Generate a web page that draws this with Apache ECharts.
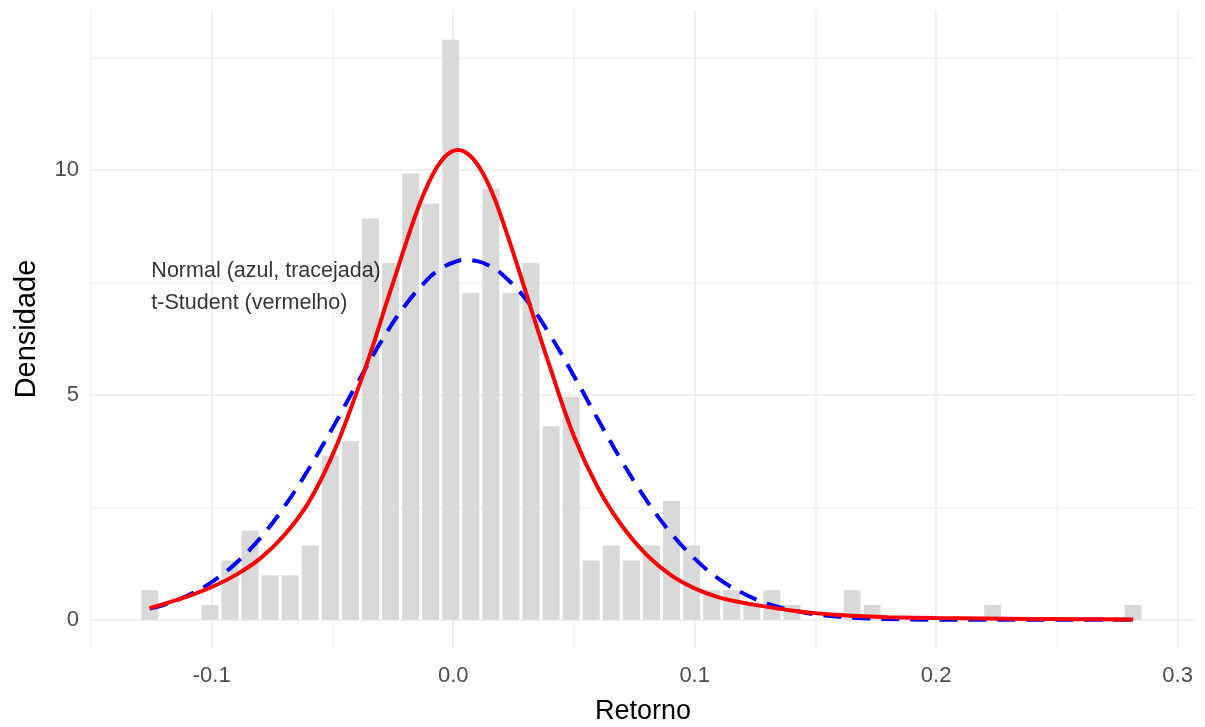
<!DOCTYPE html>
<html>
<head>
<meta charset="utf-8">
<script src="https://cdn.jsdelivr.net/npm/echarts@6/dist/echarts.min.js"></script>
<style>
  html, body { margin: 0; padding: 0; background: #ffffff; }
  #chart { width: 1205px; height: 727px; }
</style>
</head>
<body>
<div id="chart"></div>
<script>
// histogram bins (centre of each bin) and density heights
const binCenters = [
  -0.12570, -0.11739, -0.10908, -0.10076, -0.09245, -0.08414, -0.07583, -0.06752, -0.05920, -0.05089,
  -0.04258, -0.03427, -0.02596, -0.01764, -0.00933, -0.00102, 0.00729, 0.01560, 0.02392, 0.03223,
  0.04054, 0.04885, 0.05716, 0.06548, 0.07379, 0.08210, 0.09041, 0.09872, 0.10704, 0.11535,
  0.12366, 0.13197, 0.14028, 0.14860, 0.15691, 0.16522, 0.17353, 0.18184, 0.19016, 0.19847,
  0.20678, 0.21509, 0.22340, 0.23172, 0.24003, 0.24834, 0.25665, 0.26496, 0.27328, 0.28159
];
const binDensity = [
  0.66, 0, 0, 0.33, 1.32, 1.98, 0.99, 0.99, 1.65, 3.64,
  3.97, 8.92, 7.93, 9.92, 9.25, 12.89, 7.27, 9.58, 7.27, 7.93,
  4.30, 4.96, 1.32, 1.65, 1.32, 1.65, 2.64, 1.65, 0.66, 0.66,
  0.33, 0.66, 0.33, 0, 0, 0.66, 0.33, 0, 0, 0,
  0, 0, 0.33, 0, 0, 0, 0, 0, 0, 0.33
];

// fitted normal curve (blue, dashed)
const normalX = [
  -0.1257, -0.12, -0.11, -0.10, -0.09, -0.08, -0.07, -0.06, -0.05, -0.04,
  -0.03, -0.02, -0.01, -0.005, 0.0, 0.005, 0.01, 0.015, 0.02, 0.03, 0.04, 0.05,
  0.06, 0.07, 0.08, 0.09, 0.10, 0.11, 0.12, 0.13, 0.14, 0.15,
  0.16, 0.17, 0.18, 0.19, 0.20, 0.22, 0.24, 0.26, 0.2816
];
const normalY = [
  0.25, 0.33, 0.54, 0.84, 1.26, 1.81, 2.51, 3.34, 4.26, 5.23,
  6.17, 6.98, 7.60, 7.81, 7.94, 8.00, 7.97, 7.87, 7.69, 7.13, 6.34, 5.42,
  4.45, 3.51, 2.66, 1.94, 1.36, 0.91, 0.59, 0.36, 0.22, 0.12,
  0.07, 0.035, 0.017, 0.008, 0.003, 0, 0, 0, 0
];

// fitted t-Student curve (red)
const studentX = [
  -0.1257, -0.12, -0.11, -0.10, -0.09, -0.08, -0.07, -0.06, -0.05, -0.04,
  -0.033, -0.028, -0.023, -0.018, -0.013, -0.008, -0.003, 0.002, 0.007, 0.012,
  0.017, 0.022, 0.027, 0.032, 0.04, 0.05, 0.06, 0.07, 0.08, 0.09,
  0.10, 0.11, 0.12, 0.13, 0.14, 0.15, 0.16, 0.17, 0.18, 0.20,
  0.22, 0.24, 0.26, 0.2816
];
const studentY = [
  0.26, 0.35, 0.52, 0.73, 1.00, 1.36, 1.88, 2.60, 3.66, 5.05,
  6.13, 6.98, 7.80, 8.62, 9.36, 9.94, 10.31, 10.44, 10.31, 9.95,
  9.38, 8.62, 7.80, 6.95, 5.63, 4.08, 2.93, 2.08, 1.45, 1.00,
  0.70, 0.50, 0.38, 0.29, 0.21, 0.15, 0.11, 0.08, 0.06, 0.04,
  0.03, 0.02, 0.015, 0.01
];

// text annotation
const noteLines = ["Normal (azul, tracejada)", "t-Student (vermelho)"];
const noteX = [-0.125, -0.125];
const noteY = [7.76, 7.04];

const xTicks = [-0.1, 0.0, 0.1, 0.2, 0.3];
const yTicks = [0, 5, 10];

const FONT = "Liberation Sans, Arial, sans-serif";
const MAJOR = "#EBEBEB";
const MINOR = "#F3F3F3";
const NONE = "rgba(0,0,0,0)";

const chart = echarts.init(document.getElementById("chart"));

const isTick = (v, list) => list.some((t) => Math.abs(v - t) < 1e-6);

const option = {
  backgroundColor: "#ffffff",
  animation: false,
  grid: {
    left: 91,
    right: 10,
    top: 10,
    bottom: 79,
    containLabel: false,
    outerBoundsMode: "none",
  },
  xAxis: {
    type: "value",
    min: -0.15,
    max: 0.3072,
    interval: 0.05,
    name: "Retorno",
    nameLocation: "middle",
    nameGap: 50,
    nameTextStyle: { color: "#000000", fontSize: 27, fontFamily: FONT },
    axisLine: { show: false },
    axisTick: { show: false },
    axisLabel: {
      color: "#4D4D4D",
      fontSize: 22,
      fontFamily: FONT,
      margin: 17,
      formatter: (v) => (isTick(v, xTicks) ? v.toFixed(1) : ""),
    },
    splitLine: {
      show: true,
      showMaxLine: false,
      lineStyle: { color: [MINOR, MAJOR], width: 1.5 },
    },
  },
  yAxis: {
    type: "value",
    min: -0.625,
    max: 13.55,
    interval: 0.625,
    name: "Densidade",
    nameLocation: "middle",
    nameGap: 50,
    nameTextStyle: { color: "#000000", fontSize: 29, fontFamily: FONT },
    axisLine: { show: false },
    axisTick: { show: false },
    axisLabel: {
      color: "#4D4D4D",
      fontSize: 22,
      fontFamily: FONT,
      margin: 12,
      formatter: (v) => (isTick(v, yTicks) ? String(Math.round(v)) : ""),
    },
    splitLine: {
      show: true,
      showMaxLine: false,
      lineStyle: {
        color: [NONE, MAJOR, NONE, NONE, NONE, MINOR, NONE, NONE],
        width: 1.5,
      },
    },
  },
  series: [
    {
      name: "Histograma",
      type: "bar",
      barWidth: 17,
      itemStyle: { color: "#D9D9D9" },
      data: binCenters.map((x, i) => [x, binDensity[i]]),
      z: 2,
    },
    {
      name: "Normal",
      type: "line",
      smooth: 0.4,
      showSymbol: false,
      lineStyle: { color: "#0000FF", width: 4, type: [18, 11] },
      data: normalX.map((x, i) => [x, normalY[i]]),
      z: 3,
    },
    {
      name: "t-Student",
      type: "line",
      smooth: 0.4,
      showSymbol: false,
      lineStyle: { color: "#FF0000", width: 4 },
      data: studentX.map((x, i) => [x, studentY[i]]),
      z: 4,
    },
    {
      name: "nota",
      type: "scatter",
      symbolSize: 0,
      silent: true,
      label: {
        show: true,
        position: "right",
        distance: 0,
        color: "#000000",
        fontSize: 21.5,
        fontFamily: FONT,
        formatter: (p) => noteLines[p.dataIndex],
      },
      data: noteX.map((x, i) => [x, noteY[i]]),
      z: 5,
    },
  ],
};

chart.setOption(option);
</script>
</body>
</html>
